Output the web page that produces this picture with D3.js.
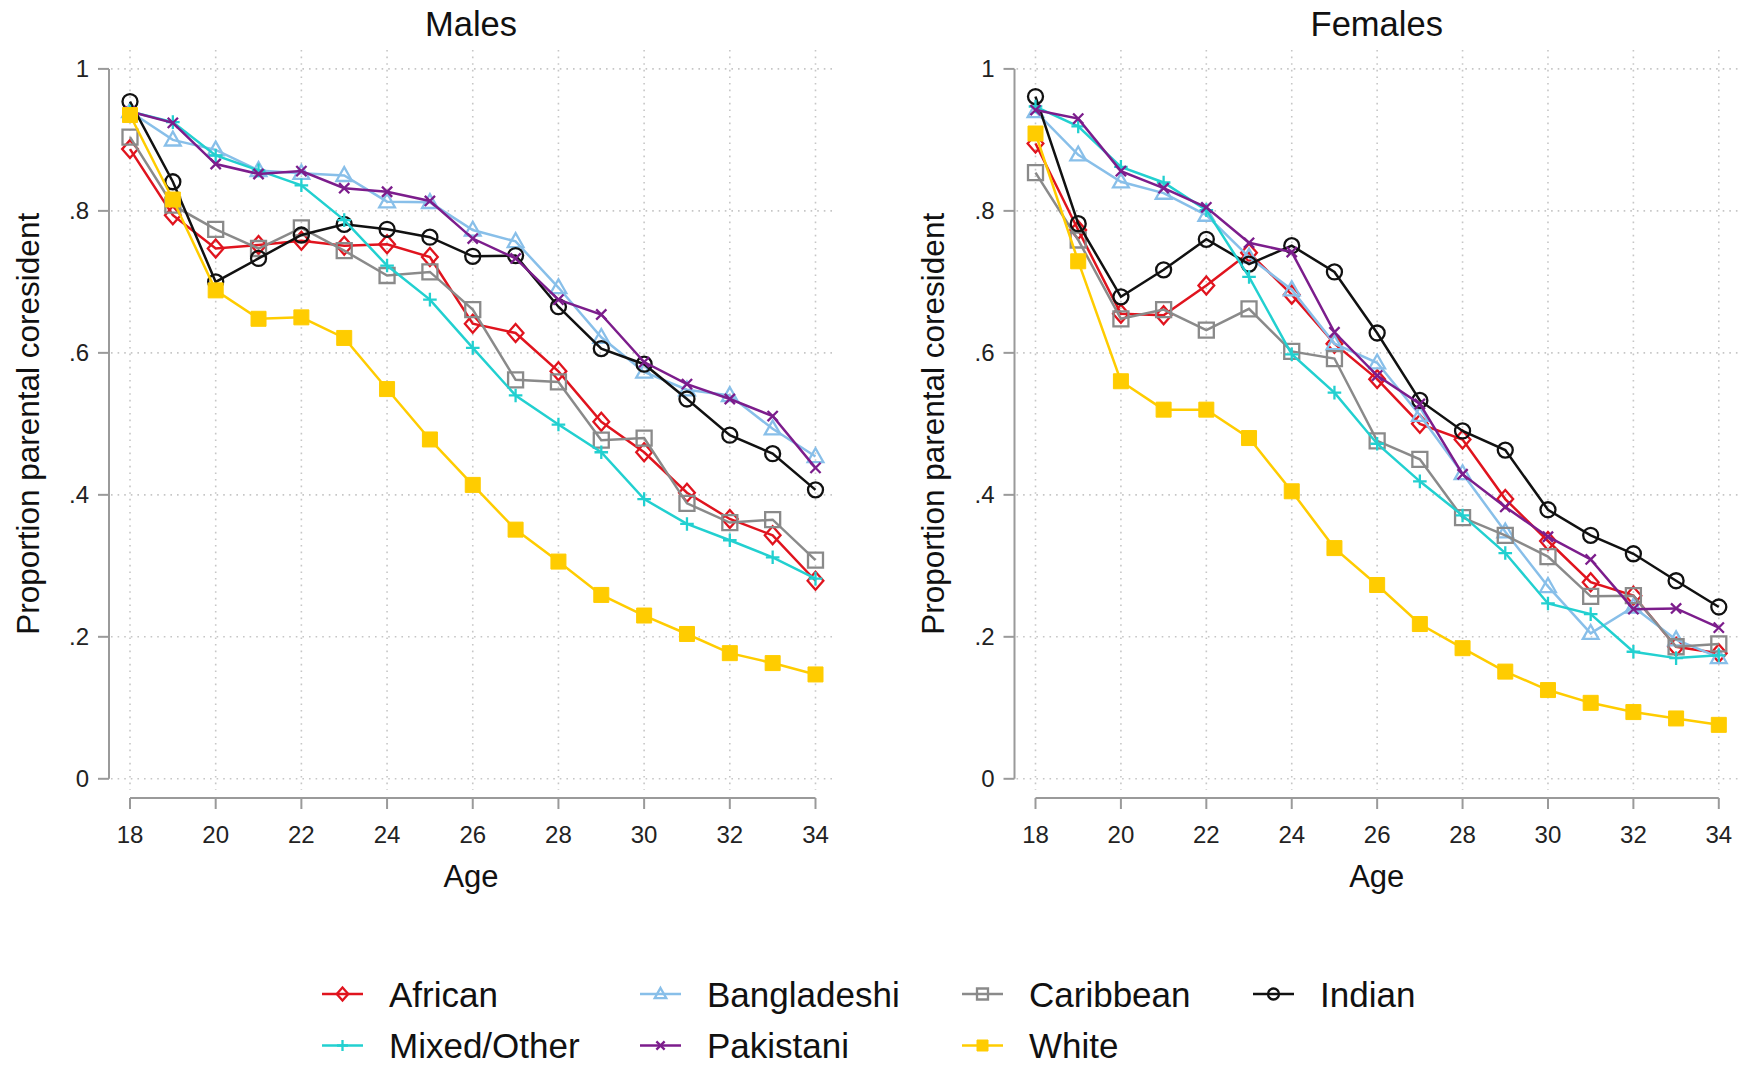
<!DOCTYPE html>
<html>
<head>
<meta charset="utf-8">
<script src="https://cdn.jsdelivr.net/npm/d3@7"></script>
<style>
  body { margin: 0; background: #fff; }
  svg { font-family: "Liberation Sans", Arial, sans-serif; }
</style>
</head>
<body>
<svg id="chart" width="1742" height="1065"></svg>
<script>
// Ages on the x axis
const ages = [18, 19, 20, 21, 22, 23, 24, 25, 26, 27, 28, 29, 30, 31, 32, 33, 34];
const xTicks = [18, 20, 22, 24, 26, 28, 30, 32, 34];
const yTicks = [0, 0.2, 0.4, 0.6, 0.8, 1];
const yTickLabels = ['0', '.2', '.4', '.6', '.8', '1'];

const groups = ['African', 'Bangladeshi', 'Caribbean', 'Indian', 'Mixed/Other', 'Pakistani', 'White'];

// Males
const malesAfrican     = [0.887, 0.794, 0.747, 0.752, 0.758, 0.751, 0.753, 0.735, 0.641, 0.628, 0.574, 0.503, 0.460, 0.403, 0.366, 0.343, 0.279];
const malesBangladeshi = [0.940, 0.900, 0.886, 0.857, 0.853, 0.850, 0.813, 0.812, 0.773, 0.757, 0.692, 0.622, 0.573, 0.548, 0.540, 0.493, 0.454];
const malesCaribbean   = [0.904, 0.808, 0.774, 0.747, 0.776, 0.744, 0.709, 0.714, 0.661, 0.562, 0.559, 0.477, 0.480, 0.388, 0.361, 0.365, 0.308];
const malesIndian      = [0.954, 0.841, 0.700, 0.733, 0.766, 0.781, 0.774, 0.763, 0.736, 0.737, 0.665, 0.606, 0.584, 0.535, 0.484, 0.458, 0.407];
const malesMixed       = [0.940, 0.925, 0.878, 0.857, 0.836, 0.787, 0.723, 0.675, 0.607, 0.540, 0.499, 0.460, 0.394, 0.359, 0.336, 0.312, 0.282];
const malesPakistani   = [0.940, 0.924, 0.866, 0.852, 0.856, 0.832, 0.827, 0.814, 0.761, 0.733, 0.675, 0.654, 0.587, 0.556, 0.535, 0.511, 0.438];
const malesWhite       = [0.935, 0.816, 0.688, 0.648, 0.650, 0.621, 0.549, 0.478, 0.414, 0.351, 0.306, 0.259, 0.230, 0.204, 0.177, 0.163, 0.147];

// Females
const femalesAfrican     = [0.895, 0.773, 0.655, 0.653, 0.695, 0.741, 0.682, 0.613, 0.563, 0.500, 0.478, 0.394, 0.335, 0.277, 0.258, 0.186, 0.177];
const femalesBangladeshi = [0.940, 0.879, 0.841, 0.825, 0.794, 0.735, 0.689, 0.613, 0.586, 0.512, 0.430, 0.348, 0.271, 0.205, 0.242, 0.196, 0.171];
const femalesCaribbean   = [0.854, 0.759, 0.648, 0.661, 0.632, 0.662, 0.602, 0.592, 0.476, 0.450, 0.368, 0.343, 0.313, 0.257, 0.258, 0.186, 0.190];
const femalesIndian      = [0.961, 0.782, 0.679, 0.717, 0.760, 0.725, 0.751, 0.714, 0.628, 0.533, 0.490, 0.463, 0.379, 0.343, 0.317, 0.279, 0.242];
const femalesMixed       = [0.947, 0.919, 0.862, 0.840, 0.801, 0.707, 0.598, 0.544, 0.472, 0.419, 0.371, 0.318, 0.247, 0.232, 0.179, 0.170, 0.174];
const femalesPakistani   = [0.942, 0.930, 0.856, 0.832, 0.805, 0.755, 0.742, 0.629, 0.568, 0.528, 0.429, 0.383, 0.341, 0.309, 0.239, 0.240, 0.213];
const femalesWhite       = [0.909, 0.729, 0.560, 0.520, 0.520, 0.480, 0.405, 0.325, 0.273, 0.218, 0.184, 0.151, 0.125, 0.107, 0.094, 0.085, 0.076];

const styles = {
  'African':     { color: '#e0141e', shape: 'diamond',  hollow: true },
  'Bangladeshi': { color: '#88bfe9', shape: 'triangle', hollow: true },
  'Caribbean':   { color: '#8a8a8a', shape: 'square',   hollow: true },
  'Indian':      { color: '#111111', shape: 'circle',   hollow: true },
  'Mixed/Other': { color: '#22d0d0', shape: 'plus',     hollow: true },
  'Pakistani':   { color: '#7c1d8c', shape: 'x',        hollow: true },
  'White':       { color: '#ffcc00', shape: 'square',   hollow: false }
};

const panels = [
  { title: 'Males', series: [malesAfrican, malesBangladeshi, malesCaribbean, malesIndian, malesMixed, malesPakistani, malesWhite],
    axisX: 109, x0: 130, x1: 815.5, right: 833, yTitleX: 28 },
  { title: 'Females', series: [femalesAfrican, femalesBangladeshi, femalesCaribbean, femalesIndian, femalesMixed, femalesPakistani, femalesWhite],
    axisX: 1014.5, x0: 1035.5, x1: 1718.8, right: 1739, yTitleX: 933 }
];

const svg = d3.select('#chart');
const yTop = 68.9, yBottom = 778.8;
const plotTop = 50, plotBottom = 790, xAxisY = 798;

// marker path around 0,0; s = half-size
function markerPath(shape, s) {
  switch (shape) {
    case 'diamond': return `M0,${-s * 1.2}L${s * 1.05},0L0,${s * 1.2}L${-s * 1.05},0Z`;
    case 'triangle': return `M0,${-s * 1.1}L${s * 1.05},${s * 0.75}L${-s * 1.05},${s * 0.75}Z`;
    case 'square': return `M${-s},${-s}H${s}V${s}H${-s}Z`;
    case 'circle': return `M${s},0A${s},${s} 0 1,1 ${-s},0A${s},${s} 0 1,1 ${s},0Z`;
    case 'plus': return `M0,${-s}V${s}M${-s},0H${s}`;
    case 'x': return `M${-s * 0.75},${-s * 0.75}L${s * 0.75},${s * 0.75}M${s * 0.75},${-s * 0.75}L${-s * 0.75},${s * 0.75}`;
  }
}

function drawMarker(g, st, x, y, s) {
  g.append('path')
    .attr('transform', `translate(${x},${y})`)
    .attr('d', markerPath(st.shape, s))
    .attr('fill', st.hollow ? 'none' : st.color)
    .attr('stroke', st.color)
    .attr('stroke-width', st.hollow ? 2.3 : 1);
}

panels.forEach(p => {
  const x = d3.scaleLinear().domain([18, 34]).range([p.x0, p.x1]);
  const y = d3.scaleLinear().domain([0, 1]).range([yBottom, yTop]);
  const g = svg.append('g');

  // dotted grid
  g.selectAll('.hgrid').data(yTicks).enter().append('line')
    .attr('x1', p.axisX + 2).attr('x2', p.right)
    .attr('y1', d => y(d)).attr('y2', d => y(d))
    .attr('stroke', '#c6c6c6').attr('stroke-width', 1.6).attr('stroke-dasharray', '1.6 5');
  g.selectAll('.vgrid').data(xTicks).enter().append('line')
    .attr('x1', d => x(d)).attr('x2', d => x(d))
    .attr('y1', plotTop).attr('y2', plotBottom)
    .attr('stroke', '#c6c6c6').attr('stroke-width', 1.6).attr('stroke-dasharray', '1.6 5');

  // y axis
  g.append('line').attr('x1', p.axisX).attr('x2', p.axisX).attr('y1', y(1)).attr('y2', y(0))
    .attr('stroke', '#9a9a9a').attr('stroke-width', 2);
  g.selectAll('.ytick').data(yTicks).enter().append('line')
    .attr('x1', p.axisX - 11).attr('x2', p.axisX)
    .attr('y1', d => y(d)).attr('y2', d => y(d))
    .attr('stroke', '#9a9a9a').attr('stroke-width', 2);
  g.selectAll('.ylab').data(yTicks).enter().append('text')
    .attr('x', p.axisX - 20).attr('y', d => y(d) + 8)
    .attr('text-anchor', 'end').attr('font-size', 24).attr('fill', '#222')
    .text((d, i) => yTickLabels[i]);
  g.append('text')
    .attr('transform', `translate(${p.yTitleX},${(yTop + yBottom) / 2}) rotate(-90)`)
    .attr('text-anchor', 'middle').attr('dominant-baseline', 'central')
    .attr('font-size', 31.5).attr('fill', '#111')
    .text('Proportion parental coresident');

  // x axis
  g.append('line').attr('x1', x(18)).attr('x2', x(34)).attr('y1', xAxisY).attr('y2', xAxisY)
    .attr('stroke', '#9a9a9a').attr('stroke-width', 2);
  g.selectAll('.xtick').data(xTicks).enter().append('line')
    .attr('x1', d => x(d)).attr('x2', d => x(d)).attr('y1', xAxisY).attr('y2', xAxisY + 11)
    .attr('stroke', '#9a9a9a').attr('stroke-width', 2);
  g.selectAll('.xlab').data(xTicks).enter().append('text')
    .attr('x', d => x(d)).attr('y', 843)
    .attr('text-anchor', 'middle').attr('font-size', 24).attr('fill', '#222')
    .text(d => d);
  g.append('text').attr('x', (p.axisX + p.right) / 2).attr('y', 887)
    .attr('text-anchor', 'middle').attr('font-size', 31).attr('fill', '#111').text('Age');

  // title
  g.append('text').attr('x', (p.axisX + p.right) / 2).attr('y', 36)
    .attr('text-anchor', 'middle').attr('font-size', 34.5).attr('fill', '#111').text(p.title);

  // series
  const line = d3.line().x((d, i) => x(ages[i])).y(d => y(d));
  p.series.forEach((vals, k) => {
    const st = styles[groups[k]];
    const sg = g.append('g');
    sg.append('path').attr('d', line(vals))
      .attr('fill', 'none').attr('stroke', st.color).attr('stroke-width', 2.5);
    vals.forEach((v, i) => drawMarker(sg, st, x(ages[i]), y(v), st.shape === 'x' || st.shape === 'plus' ? 6.8 : 7.5));
  });
});

// legend
const legendCols = [389, 707, 1029, 1320];
const legendRows = [994, 1045.5];
const legendOrder = [['African', 'Bangladeshi', 'Caribbean', 'Indian'], ['Mixed/Other', 'Pakistani', 'White']];
legendOrder.forEach((row, r) => {
  row.forEach((name, c) => {
    const st = styles[name];
    const tx = legendCols[c], ty = legendRows[r];
    const lg = svg.append('g');
    lg.append('line').attr('x1', tx - 67).attr('x2', tx - 26).attr('y1', ty).attr('y2', ty)
      .attr('stroke', st.color).attr('stroke-width', 2.5);
    drawMarker(lg, st, tx - 46.5, ty, 5.5);
    lg.append('text').attr('x', tx).attr('y', ty + 12.5)
      .attr('font-size', 35).attr('fill', '#111').text(name);
  });
});
</script>
</body>
</html>
